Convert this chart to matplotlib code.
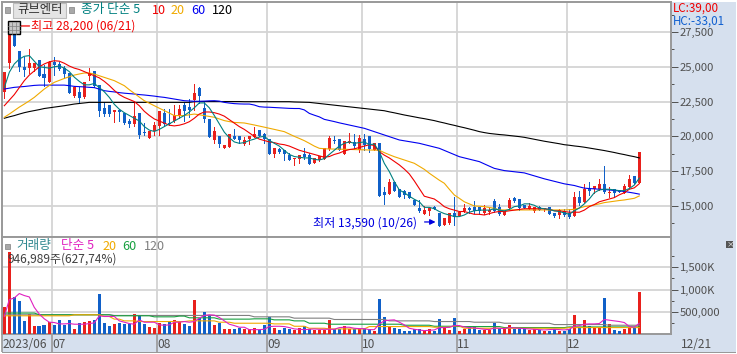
import matplotlib
matplotlib.use('Agg')
import matplotlib.pyplot as plt
from matplotlib.patches import Rectangle
from matplotlib.lines import Line2D

plt.rcParams['font.family'] = ['Noto Sans CJK KR', 'DejaVu Sans']

opens = [23200,25300,27450,26150,24950,24900,24880,25480,24450,23880,25310,25190,24880,24550,22870,23160,22800,24300,24690,23690,
         22010,22250,21730,21900,21700,21130,20888,21702,20338,19907,20410,20768,21654,20984,21128,21463,22252,22085,22611,23497,
         22061,21223,19739,20027,19189,19261,20027,20027,19452,19787,19930,20457,20170,19811,18734,19093,19021,18662,18351,18351,
         18710,18662,18112,18303,18375,19069,19740,19811,18734,19548,19572,19021,19787,20027,19021,19500,16030,15863,16748,16198,
         16078,16030,15432,14834,14427,14643,14954,14523,13638,13805,14474,14283,14665,14833,14905,14905,14522,14594,15383,14905,
         14355,14833,15551,15503,15072,14785,14665,14953,14761,14905,14474,14355,14665,14522,14283,15623,15264,16197,16221,16197,
         16580,15958,16197,16150,15958,16341,17155,16676]
closes = [24640,27300,26500,24950,24780,25260,25260,24350,24160,25310,25120,24830,24470,23110,23520,22750,23880,24550,23640,21850,
          21600,21600,21920,21730,20960,20890,21463,20098,20218,20410,20816,21822,20864,20864,21534,21941,21822,21893,23138,22898,
          21247,19979,20386,19452,19380,20170,19787,19739,19739,20027,20170,20050,19787,18734,19141,18854,18710,18303,18471,18662,
          18495,18016,18423,18614,19141,19907,19690,19021,19667,19667,19333,19859,19380,19069,19548,15743,15791,16748,16102,15623,
          15791,15551,15073,14643,14714,14882,14786,13590,14117,14475,14235,14594,14833,14713,14665,14618,14833,14713,14665,14426,
          14665,15431,15383,14833,14833,15025,14905,14713,14881,14426,14283,14713,14355,14187,15623,15240,16197,16102,16437,16580,
          16030,16030,15910,15982,16437,16915,16628,18854]
highs = [24640,28200,27500,26150,25670,26270,25300,25480,25120,25430,25670,25360,25070,24550,23640,23520,23930,24900,24690,23690,
         22440,22250,21920,21980,21700,21250,22372,21702,20936,20410,21056,21822,21941,21941,22252,22252,22420,22659,23760,23569,
         22491,21223,20697,20027,19380,20170,20530,20027,19979,20027,20649,20457,20218,19811,19141,19141,19021,18780,18471,18662,
         19141,18800,18423,18614,19141,20050,20027,19811,19667,20266,20146,20098,20146,20027,19548,19500,16341,16940,16748,16198,
         16150,16030,15480,15432,15000,14882,14978,14523,14117,14475,15670,14594,15120,14953,15360,14905,15072,14905,15503,15144,
         14665,15551,15670,15503,15072,15192,14905,15000,14881,14905,14474,14809,14761,14762,16030,16078,16556,16700,16437,16915,
         17872,16389,16197,16150,16580,17226,17155,18854]
lows = [22730,24880,26500,24700,24300,24550,24660,24350,23640,23880,24400,24780,24190,23110,22800,22390,22750,24040,23520,21490,
        21490,21450,21010,21080,20900,20650,20745,19907,20098,19907,20098,20098,20745,20816,21056,21295,21128,21367,21893,22372,
        21056,19979,19500,19213,19141,19261,19787,19549,19380,19452,19930,20050,19500,18734,18495,18780,18303,18303,17944,18064,
        18351,18016,18112,18230,18375,19021,19548,19021,18734,19500,19141,18902,19021,18902,19021,15743,15145,15863,16102,15623,
        15551,15551,15073,14595,14427,14355,14786,13590,13638,13709,13637,14283,14594,14522,14522,14402,14402,14402,14594,14355,
        14355,14785,15264,14713,14833,14785,14546,14713,14665,14426,14235,14115,14283,14116,14283,15072,15264,15791,15958,16150,
        15958,15623,15623,15982,15958,16269,16556,16676]

ma5 = [23500,24600,25200,25550,25750,25800,25400,25000,24950,24900,25000,25050,24900,24650,24250,23950,23700,23700,23800,23500,
       23200,22800,22300,21950,21700,21500,21300,21100,20700,20450,20350,20500,20700,20900,21100,21300,21500,21750,22050,22400,
       22400,22050,21500,20900,20300,19900,19600,19500,19550,19700,19800,19950,20000,19700,19500,19300,19000,18700,18550,18500,
       18450,18450,18350,18300,18400,18700,19000,19300,19500,19600,19500,19550,19600,19400,19450,18900,18060,17470,16750,16150,
       15950,15700,15480,15300,14900,14900,14800,14600,14450,14350,14235,14235,14350,14550,14650,14700,14700,14700,14800,14700,
       14650,14750,14950,15000,15150,15150,15050,14850,14800,14750,14650,14600,14500,14400,14650,14850,15150,15500,15950,16150,
       16200,16200,16150,16100,16100,16250,16500,17000]
ma10 = [22200,22600,23000,23500,24000,24400,24700,25000,25200,25350,25430,25400,25250,25050,24900,24800,24650,24500,24350,24200,
        23950,23650,23300,23000,22800,22650,22500,22200,21800,21500,21250,21100,20950,20800,20750,20800,20900,21050,21300,21600,
        21750,21750,21700,21600,21450,21200,20950,20700,20500,20250,20000,19800,19700,19600,19550,19450,19400,19300,19150,19000,
        18900,18800,18700,18600,18500,18550,18700,18800,18950,19050,19100,19200,19300,19400,19350,18900,18650,18450,18200,17950,
        17650,17300,16800,16250,15700,15600,15500,15250,14950,14800,14700,14600,14600,14500,14400,14400,14350,14450,14550,14600,
        14600,14650,14700,14750,14800,14800,14800,14800,14800,14750,14650,14650,14600,14550,14550,14550,14700,14950,15100,15300,
        15400,15500,15600,15800,15950,16200,16300,16600]
ma20 = [21370,21600,21850,22100,22320,22550,22800,23100,23400,23650,23880,24020,24160,24280,24400,24480,24550,24550,24470,24350,
        24235,24120,24000,23820,23640,23350,23090,22820,22560,22380,22200,22020,21850,21670,21490,21490,21490,21550,21600,21550,
        21490,21430,21370,21250,21130,21060,21000,20980,20960,20890,20816,20740,20660,20577,20500,20420,20337,20170,20000,19850,
        19690,19500,19300,19141,19110,19093,19090,19080,19070,19060,19050,19040,19030,19020,19010,19000,18830,18680,18540,18420,
        18300,18180,18065,17850,17630,17350,17100,16850,16630,16200,15790,15550,15300,15150,15000,14980,14950,14890,14830,14713,
        14713,14713,14713,14713,14713,14713,14713,14713,14713,14713,14713,14713,14713,14730,14760,14850,14950,15010,15070,15150,
        15240,15290,15340,15390,15430,15490,15550,15720]
ma60 = [23400,23460,23520,23550,23580,23620,23660,23680,23680,23680,23680,23680,23680,23640,23590,23570,23550,23520,23500,23390,
        23280,23230,23190,23140,23100,23070,23040,23000,22970,22930,22890,22840,22800,22740,22680,22620,22560,22540,22520,22520,
        22530,22550,22560,22530,22440,22390,22350,22330,22320,22320,22250,22130,22100,22090,22070,22050,22030,22010,22000,22000,
        21900,21650,21520,21400,21220,21140,21060,20970,20890,20810,20730,20650,20577,20460,20340,20218,20100,19980,19860,19740,
        19680,19620,19560,19500,19410,19320,19230,19140,18990,18840,18690,18540,18450,18360,18270,18185,18020,17860,17700,17620,
        17540,17500,17460,17420,17375,17270,17160,17060,16950,16860,16770,16680,16590,16530,16470,16370,16280,16250,16230,16200,
        16180,16150,16110,16080,16040,15980,15920,15850]
ma120 = [21300,21400,21490,21600,21700,21780,21850,21920,22000,22050,22100,22150,22200,22260,22320,22360,22400,22440,22440,22440,
         22440,22440,22440,22440,22440,22440,22440,22440,22440,22440,22440,22440,22440,22440,22440,22440,22440,22440,22490,22500,
         22500,22500,22500,22500,22500,22500,22500,22500,22490,22490,22490,22490,22490,22490,22490,22490,22490,22490,22470,22460,
         22450,22440,22400,22360,22320,22280,22240,22200,22160,22120,22080,22040,22000,21960,21920,21880,21840,21760,21690,21610,
         21535,21470,21400,21330,21270,21200,21130,21040,20960,20870,20790,20700,20620,20530,20440,20340,20270,20210,20170,20130,
         20100,20060,20020,19980,19930,19860,19790,19720,19650,19590,19530,19470,19400,19360,19310,19270,19220,19160,19100,19040,
         18980,18910,18840,18760,18690,18610,18540,18450]

volumes = [600,1833,840,750,295,447,182,182,205,265,205,318,205,318,114,242,273,295,318,909,
           258,182,227,258,227,220,455,394,227,152,129,258,220,265,318,265,220,182,773,356,
           500,409,205,250,114,114,114,144,106,114,129,91,205,371,129,91,136,114,91,129,
           182,114,98,91,98,318,114,114,182,114,114,114,114,114,68,795,386,167,129,114,
           68,68,114,114,68,114,68,341,144,91,364,68,114,152,174,98,91,91,250,114,
           114,205,114,136,114,91,106,91,68,76,106,76,76,114,432,167,318,182,144,144,
           818,220,91,68,114,144,144,947]
vol_ma5 = [394,773,811,909,864,833,598,447,341,265,258,227,227,235,220,220,220,235,250,409,
           394,394,394,295,265,235,220,318,265,265,265,205,197,205,265,265,280,265,280,356,
           417,432,424,371,295,220,189,152,152,98,98,98,106,167,174,174,167,144,114,106,
           98,106,114,106,106,106,106,144,152,152,129,121,121,98,98,227,295,311,318,265,
           205,129,106,91,76,83,91,144,144,152,189,189,159,144,136,121,106,98,136,129,
           121,144,136,129,121,114,106,98,91,98,106,98,91,106,174,189,220,227,227,235,
           326,311,295,280,258,167,152,242]
vol_ma20 = [409,409,409,409,409,409,409,409,409,409,409,409,409,409,432,432,432,432,432,432,
            394,394,334,334,295,295,295,280,280,280,280,280,280,280,280,280,280,295,295,295,
            295,295,295,265,265,265,242,242,242,242,242,242,242,242,227,227,227,227,174,174,
            174,129,129,129,129,114,114,114,114,114,114,114,114,167,167,167,167,167,167,167,
            167,167,167,167,167,167,152,152,152,152,182,182,129,129,129,129,129,129,129,129,
            129,129,129,129,129,129,129,129,129,129,129,129,129,144,144,144,144,144,144,144,
            144,144,144,144,144,144,144,144]
vol_ma60 = [470,470,470,470,470,470,470,432,432,432,432,432,432,432,432,432,432,432,432,432,
            432,432,409,409,409,409,409,409,409,409,386,386,386,386,386,402,402,364,364,364,
            364,364,364,334,334,334,334,334,334,334,341,341,341,341,318,318,318,318,295,295,
            295,242,242,242,242,220,220,220,220,220,220,220,220,220,220,220,220,220,220,220,
            197,197,197,197,197,197,174,174,174,174,174,167,167,167,167,167,167,167,167,167,
            144,144,144,144,144,144,144,144,144,144,144,144,144,159,159,159,159,159,159,159,
            159,159,159,159,159,159,159,159]
vol_ma120 = [432,432,432,432,432,432,432,432,432,432,432,432,432,432,432,432,432,432,432,432,
             432,432,417,417,417,417,417,417,417,417,417,417,417,417,417,417,417,417,417,417,
             417,417,417,417,417,417,417,417,417,417,386,386,386,386,386,386,386,386,356,356,
             356,356,356,356,356,356,326,326,326,326,326,326,326,326,326,326,326,295,295,295,
             295,295,295,295,295,295,280,280,280,280,280,280,280,280,265,265,265,265,265,265,
             242,242,242,242,242,242,242,242,242,242,212,212,212,212,212,212,212,212,212,212,
             212,197,197,197,197,197,197,197]

month_idx = [0, 10, 31, 53, 72, 91, 113]
month_labels = ['2023/06', '07', '08', '09', '10', '11', '12']
price_ticks = [15000, 17500, 20000, 22500, 25000, 27500]
vol_ticks = [500, 1000, 1500]
vol_tick_labels = ['500,000', '1,000K', '1,500K']

W, H = 737, 354
RED = '#E8201C'
BLUE = '#1060C8'
GRID = '#D4D4D4'
BORDER = '#999999'
PANEL = '#D6E0EE'
TEXT = '#505050'
THIN = 0.72


def px_rect(x0, y0, x1, y1):
    return [x0 / W, 1 - y1 / H, (x1 - x0) / W, (y1 - y0) / H]


def box(x0, y0, x1, y1, face, edge='none', lw=0.8, z=5):
    fig.add_artist(Rectangle((x0 / W, 1 - y1 / H), (x1 - x0) / W, (y1 - y0) / H, transform=fig.transFigure,
                             facecolor=face, edgecolor=edge, linewidth=lw, zorder=z))


def ftext(x, y, s, color, size=8.6, **kw):
    # x,y in picture pixels
    fig.text(x / W, 1 - y / H, s, color=color, fontsize=size, va='center', zorder=6, **kw)


fig = plt.figure(figsize=(W / 100, H / 100), dpi=100, facecolor='white')
box(671, 2, 736, 352, PANEL, z=-2)
box(2, 334, 671, 352, PANEL, z=-2)
box(2, 352, 736, 353.4, BORDER, z=-1)

ax = fig.add_axes(px_rect(2.3, 2, 671, 237))
axv = fig.add_axes(px_rect(2.3, 237, 671, 334))
xlim = (-0.4, 133.34)
xs = list(range(len(closes)))
month_pos = [m - 0.4 for m in month_idx]

for a in (ax, axv):
    a.set_xlim(*xlim)
    a.set_axisbelow(True)
    a.grid(True, which='major', color=GRID, linewidth=1.3)
    for s in a.spines.values():
        s.set_color(BORDER)
        s.set_linewidth(1.4)
    a.yaxis.tick_right()
    a.tick_params(axis='y', which='major', color=TEXT, length=5, width=0.7, labelcolor=TEXT, labelsize=8.1, pad=1.5)
    a.tick_params(axis='y', which='minor', color=TEXT, length=2, width=0.7)

# candles
ax.set_ylim(12770, 29650)
ax.set_yticks(price_ticks)
ax.set_yticklabels([f'{p:,}' for p in price_ticks])
ax.set_yticks([p + 1250 for p in price_ticks[:-1]] + [13750, 28750], minor=True)
ax.set_xticks(month_pos)
ax.tick_params(axis='x', length=0, labelbottom=False)
for i in xs:
    c = RED if closes[i] >= opens[i] else BLUE
    ax.vlines(i, lows[i], highs[i], color=c, linewidth=THIN, zorder=3, antialiased=False)
    ax.bar(i, abs(closes[i] - opens[i]), bottom=min(opens[i], closes[i]), width=0.72, color=c, zorder=3,
           linewidth=0, antialiased=False)

for vals, col in [(ma120, '#000000'), (ma60, '#0000F0'), (ma20, '#F0AA00'), (ma10, '#F00000'), (ma5, '#008080')]:
    ax.plot(xs, vals, color=col, linewidth=0.8, zorder=4)

# volume
axv.set_ylim(0, 2180)
axv.set_yticks(vol_ticks)
axv.set_yticklabels(vol_tick_labels)
axv.set_yticks([250, 750, 1250, 1750], minor=True)
axv.set_xticks(month_pos)
axv.set_xticklabels(month_labels, ha='left', color=TEXT, fontsize=8.6)
axv.tick_params(axis='x', length=13, width=1.2, color=BORDER, pad=-10)
vcols = [RED if closes[i] >= opens[i] else BLUE for i in xs]
axv.bar(xs, volumes, width=0.72, color=vcols, linewidth=0, zorder=3, antialiased=False)
for vals, col in [(vol_ma120, '#808080'), (vol_ma60, '#18A040'), (vol_ma20, '#F0AA00'), (vol_ma5, '#E020C0')]:
    axv.plot(xs, vals, color=col, linewidth=0.8, zorder=4)

# header row
box(12.5, 3, 65.5, 17.5, '#E4E4E4', '#BBBBBB')
for x in (5, 69):
    box(x, 7.5, x + 5, 12.5, '#A8A8A8', '#808080', 0.5)
ftext(17, 10, '큐브엔터', '#303030', 8.9)
ftext(81, 10, '종가 단순 5', '#008080', 9.1)
ftext(152, 10, '10', '#F00000', 9.1)
ftext(171, 10, '20', '#F0AA00', 9.1)
ftext(191, 10, '60', '#0000F0', 9.1)
ftext(212, 10, '120', '#000000', 9.1)

# high marker, small table icon
box(7.5, 21, 20.5, 34, '#C8C8C8', 'black', 1, 7)
for p in (25.5, 29.5):
    fig.add_artist(Line2D([8 / W, 20 / W], [1 - p / H, 1 - p / H], color='#808080', linewidth=0.5, zorder=8))
for p in (11.5, 16):
    fig.add_artist(Line2D([p / W, p / W], [1 - 21.5 / H, 1 - 33.5 / H], color='#808080', linewidth=0.5, zorder=8))
ftext(31, 26, '최고 28,200 (06/21)', '#F00000', 8.7)
ax.annotate('', xy=(0.75, 0.898), xycoords=('data', 'axes fraction'), xytext=(5.6, 0.898),
            arrowprops=dict(arrowstyle='-|>', color='#F00000', lw=0.9, mutation_scale=6))

# low marker
ftext(313, 223, '최저 13,590 (10/26)', '#0000E0', 8.7)
ax.annotate('', xy=(86.8, 13850), xytext=(83.5, 13850),
            arrowprops=dict(arrowstyle='-|>', color='#0000E0', lw=0.9, mutation_scale=8), zorder=6)

# right panel
ftext(673, 8, 'LC:39,00', '#F00000', 8.4)
ftext(673, 21, 'HC:-33,01', '#1060D0', 8.4)
box(726, 241, 733, 247.5, '#555555')
ftext(727, 244.3, '×', 'white', 5.5)
ftext(681, 344, '12/21', TEXT, 8.6)

# volume legend
box(5, 243.5, 10, 248.5, '#A8A8A8', '#808080', 0.5)
ftext(16, 246, '거래량', '#308890', 9.1)
ftext(61, 246, '단순 5', '#E020C0', 9.1)
ftext(103, 246, '20', '#F0AA00', 9.1)
ftext(122, 246, '60', '#18A040', 9.1)
ftext(144, 246, '120', '#808080', 9.1)
ftext(7, 259, '946,989주(627,74%)', '#404040', 8.6)

fig.savefig('out.png', dpi=100)
